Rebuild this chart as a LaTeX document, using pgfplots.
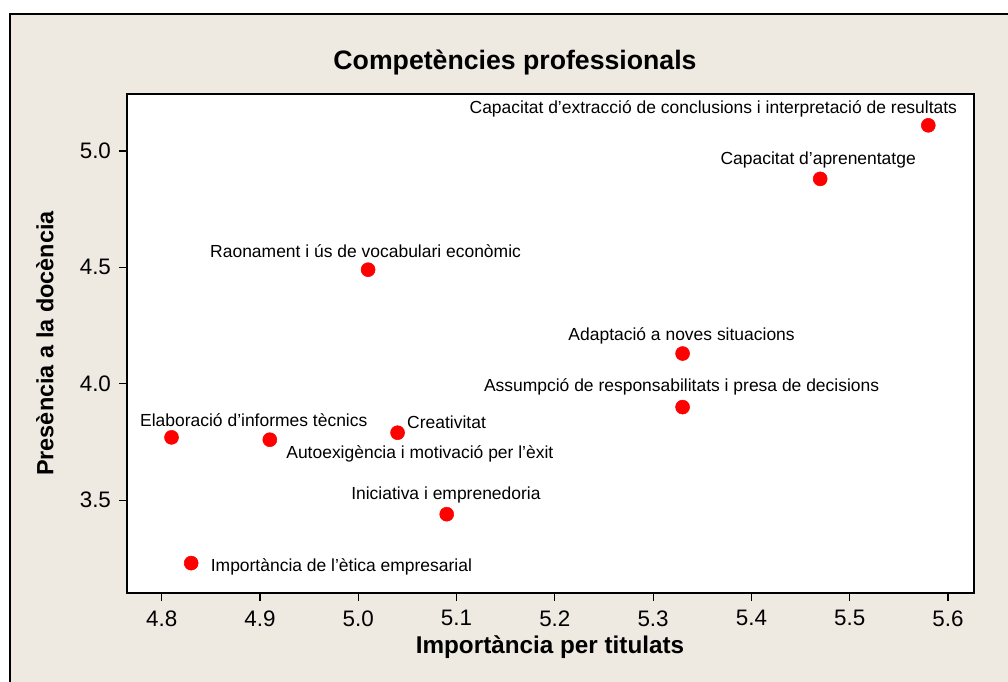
\documentclass[border=0pt]{standalone}
\usepackage{pgfplots}
\pgfplotsset{compat=1.18}
\usepackage{pgfplotstable}
\usepackage{fontspec}
\setmainfont{Liberation Sans}
\definecolor{mtbbg}{RGB}{238,234,225}
\definecolor{mtbred}{RGB}{255,0,0}

% one pixel of the reference = 0.75pt; dx, dy = label offset in pixels
% labels centred over their point
\pgfplotstableread[col sep=semicolon]{
x;y;dx;dy;label
5.47;4.88;-2;19;Capacitat d’aprenentatge
5.01;4.49;-2.5;19;Raonament i ús de vocabulari econòmic
5.33;4.13;-1;18;Adaptació a noves situacions
5.33;3.90;-1;20;Assumpció de responsabilitats i presa de decisions
5.09;3.44;-0.8;19.3;Iniciativa i emprenedoria
}\datacenter
% labels starting at their left edge
\pgfplotstableread[col sep=semicolon]{
x;y;dx;dy;label
4.81;3.77;-31.6;17;Elaboració d’informes tècnics
4.91;3.76;16.3;-14;Autoexigència i motivació per l’èxit
5.04;3.79;9.4;10.6;Creativitat
4.83;3.23;19.4;-3.4;Importància de l’ètica empresarial
}\datawest
% labels ending at their right edge
\pgfplotstableread[col sep=semicolon]{
x;y;dx;dy;label
5.58;5.11;29;16;Capacitat d’extracció de conclusions i interpretació de resultats
}\dataeast

\pgfplotsset{
  pts/.style={only marks, mark=*, mark size=5.25pt, color=mtbred,
    nodes near coords, point meta=explicit symbolic,
    visualization depends on={\thisrow{dx}\as\dx},
    visualization depends on={\thisrow{dy}\as\dy},
    every node near coord/.append style={anchor=#1, inner sep=0pt,
        xshift=\dx*0.75pt, yshift=\dy*0.75pt, text=black,
        font=\fontsize{13.1pt}{15pt}\selectfont}},
}

\begin{document}
\begin{tikzpicture}[x=0.75pt,y=0.75pt]
\useasboundingbox (0,0) rectangle (1008,682);
\fill[white] (0,0) rectangle (1008,682);
\filldraw[fill=mtbbg,draw=black,line width=1.5pt] (10.3,-20) rectangle (1040,668.3);

\begin{axis}[
    at={(95.25pt,66.75pt)}, anchor=south west,
    scale only axis,
    width=635.25pt, height=374.25pt,
    xmin=4.7647, xmax=5.6265,
    ymin=3.1017, ymax=5.2445,
    axis background/.style={fill=white},
    axis line style={black,line width=0.9pt},
    tick align=outside,
    xtick pos=left, ytick pos=left,
    major tick length=6pt,
    tick style={black,line width=0.9pt},
    xtick={4.8,4.9,5.0,5.1,5.2,5.3,5.4,5.5,5.6},
    ytick={3.5,4.0,4.5,5.0},
    /pgf/number format/.cd, fixed, fixed zerofill, precision=1, assume math mode=true,
    /pgfplots/.cd,
    tick label style={font=\fontsize{16.8pt}{19pt}\selectfont},
    xticklabel style={yshift=-3.5pt},
    yticklabel style={xshift=-2.5pt},
    clip=false,
]
\addplot[pts=center] table[x=x,y=y,meta=label]{\datacenter};
\addplot[pts=west] table[x=x,y=y,meta=label]{\datawest};
\addplot[pts=east] table[x=x,y=y,meta=label]{\dataeast};
\end{axis}

\node[font=\bfseries\fontsize{20pt}{24pt}\selectfont] at (515,620) {Competències professionals};
\node[font=\bfseries\fontsize{18.2pt}{22pt}\selectfont] at (550,35) {Importància per titulats};
\node[font=\bfseries\fontsize{17.6pt}{22pt}\selectfont,rotate=90] at (45,338.5) {Presència a la docència};
\end{tikzpicture}
\end{document}
